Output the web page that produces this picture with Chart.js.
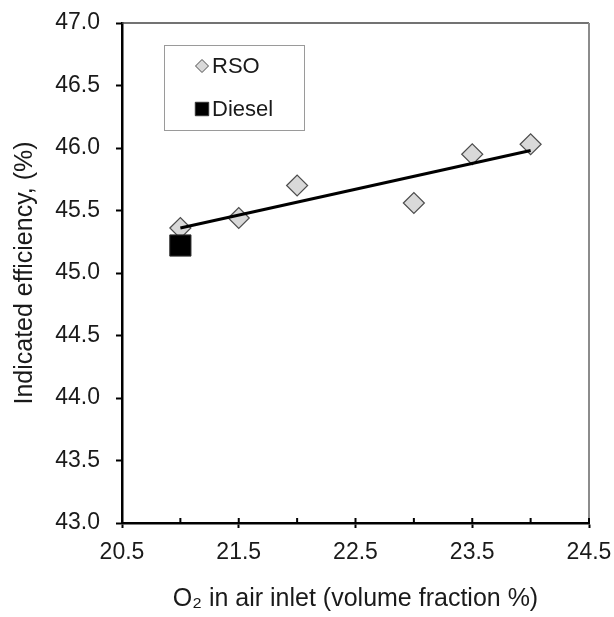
<!DOCTYPE html>
<html>
<head>
<meta charset="utf-8">
<script src="https://cdn.jsdelivr.net/npm/chart.js@4.4.1/dist/chart.umd.min.js"></script>
<style>
  html, body { margin: 0; padding: 0; background: #fff; }
  #wrap { width: 614px; height: 617px; }
</style>
</head>
<body>
<div id="wrap"><canvas id="graphEff"></canvas></div>
<script>
// O2 fraction in the intake air (vol %)
var rsoX = [21, 21.5, 22, 23, 23.5, 24];
// indicated efficiency (%) for rapeseed oil
var rsoY = [45.36, 45.44, 45.70, 45.56, 45.95, 46.03];
// diesel reference run
var dieselX = [21];
var dieselY = [45.22];
// linear trend for RSO, end points
var trendX = [21, 24];
var trendY = [45.36, 45.98];

var xTickLabels = ['20.5', '21.5', '22.5', '23.5', '24.5'];
var yTickLabels = ['43.0', '43.5', '44.0', '44.5', '45.0', '45.5', '46.0', '46.5', '47.0'];

var fontFam = '"Liberation Sans", Arial, sans-serif';
var txtColor = '#1a1a1a';

function toPoints(xs, ys) {
  return xs.map(function (x, i) { return { x: x, y: ys[i] }; });
}

function isMajorX(v) {
  return xTickLabels.indexOf(v.toFixed(1)) !== -1;
}

// top / right frame and small inward ticks on the x axis
const framePlugin = {
  id: 'frame',
  beforeDatasetsDraw(chart) {
    const ctx = chart.ctx;
    const a = chart.chartArea;
    ctx.save();
    ctx.strokeStyle = '#444';
    ctx.lineWidth = 1.5;
    ctx.beginPath();
    ctx.moveTo(a.left, a.top);
    ctx.lineTo(a.right, a.top);
    ctx.stroke();
    ctx.strokeStyle = '#8c8c8c';
    ctx.lineWidth = 2;
    ctx.beginPath();
    ctx.moveTo(a.right, a.top);
    ctx.lineTo(a.right, a.bottom);
    ctx.stroke();

    const xs = chart.scales.x;
    ctx.strokeStyle = '#000';
    ctx.lineWidth = 2;
    xs.ticks.forEach(function (t) {
      const px = xs.getPixelForValue(t.value);
      ctx.beginPath();
      ctx.moveTo(px, a.bottom);
      ctx.lineTo(px, a.bottom - 5);
      ctx.stroke();
    });
    ctx.restore();
  }
};

// boxed legend sitting inside the plot
const boxLegend = {
  id: 'boxLegend',
  afterDraw(chart) {
    const ctx = chart.ctx;
    const items = [chart.data.datasets[2], chart.data.datasets[1]];
    const bx = 164, by = 45, bw = 140, bh = 85;
    ctx.save();
    ctx.fillStyle = '#fff';
    ctx.fillRect(bx, by, bw, bh);
    ctx.strokeStyle = '#9a9a9a';
    ctx.lineWidth = 1;
    ctx.strokeRect(bx + 0.5, by + 0.5, bw, bh);

    ctx.font = '22px ' + fontFam;
    ctx.textBaseline = 'middle';
    ctx.textAlign = 'left';
    const rows = [66, 109];
    items.forEach(function (ds, i) {
      ctx.fillStyle = ds.pointBackgroundColor;
      ctx.strokeStyle = ds.pointBorderColor;
      Chart.helpers.drawPoint(ctx, {
        pointStyle: ds.pointStyle,
        radius: ds.pointStyle === 'rect' ? 9.5 : 6.5,
        rotation: 0,
        borderWidth: 1
      }, 202, rows[i]);
      ctx.fillStyle = txtColor;
      ctx.fillText(ds.label, 212, rows[i] + 1);
    });
    ctx.restore();
  }
};

const graphData = {
  datasets: [
    {
      label: 'trend',
      type: 'line',
      data: toPoints(trendX, trendY),
      borderColor: '#000',
      borderWidth: 3,
      pointRadius: 0,
      fill: false,
      order: 0
    },
    {
      label: 'Diesel',
      data: toPoints(dieselX, dieselY),
      pointStyle: 'rect',
      pointRadius: 15,
      pointBackgroundColor: '#000',
      pointBorderColor: '#333',
      pointBorderWidth: 1,
      order: 1
    },
    {
      label: 'RSO',
      data: toPoints(rsoX, rsoY),
      pointStyle: 'rectRot',
      pointRadius: 10.5,
      pointBackgroundColor: '#d9d9d9',
      pointBorderColor: '#4d4d4d',
      pointBorderWidth: 1.2,
      order: 2
    }
  ]
};

const config = {
  type: 'scatter',
  data: graphData,
  plugins: [framePlugin, boxLegend],
  options: {
    responsive: true,
    maintainAspectRatio: false,
    animation: false,
    layout: { padding: { top: 23, right: 25, left: 0, bottom: 0 } },
    plugins: {
      legend: { display: false },
      tooltip: { enabled: false }
    },
    scales: {
      x: {
        type: 'linear',
        min: 20.5,
        max: 24.5,
        afterFit: function (scale) {
          scale.height = 94;
          scale.paddingLeft = 0;
          scale.paddingRight = 0;
        },
        ticks: {
          stepSize: 0.5,
          autoSkip: false,
          maxRotation: 0,
          padding: 11,
          color: txtColor,
          font: { family: fontFam, size: 23 },
          callback: function (v) { return isMajorX(v) ? v.toFixed(1) : ''; }
        },
        grid: {
          drawOnChartArea: false,
          tickLength: 5,
          tickWidth: 2,
          tickColor: function (c) {
            return c.tick && isMajorX(c.tick.value) ? '#000' : 'rgba(0,0,0,0)';
          }
        },
        border: { color: '#000', width: 2.5 },
        title: {
          display: true,
          text: 'O\u2082 in air inlet (volume fraction %)',
          color: txtColor,
          font: { family: fontFam, size: 25 },
          padding: { top: 0, bottom: 3 }
        }
      },
      y: {
        min: 43,
        max: 47,
        afterFit: function (scale) {
          scale.width = 122;
          scale.paddingTop = 0;
          scale.paddingBottom = 0;
        },
        ticks: {
          stepSize: 0.5,
          padding: 16,
          color: txtColor,
          font: { family: fontFam, size: 23 },
          callback: function (v) {
            const s = v.toFixed(1);
            return yTickLabels.indexOf(s) !== -1 ? s : '';
          }
        },
        grid: {
          drawOnChartArea: false,
          tickLength: 6,
          tickWidth: 2,
          tickColor: '#000'
        },
        border: { color: '#000', width: 2.5 },
        title: {
          display: true,
          text: 'Indicated efficiency, (%)',
          color: txtColor,
          font: { family: fontFam, size: 25 },
          padding: { top: 10, bottom: 0 }
        }
      }
    }
  }
};

var effChart = new Chart(document.getElementById('graphEff'), config);
</script>
</body>
</html>
